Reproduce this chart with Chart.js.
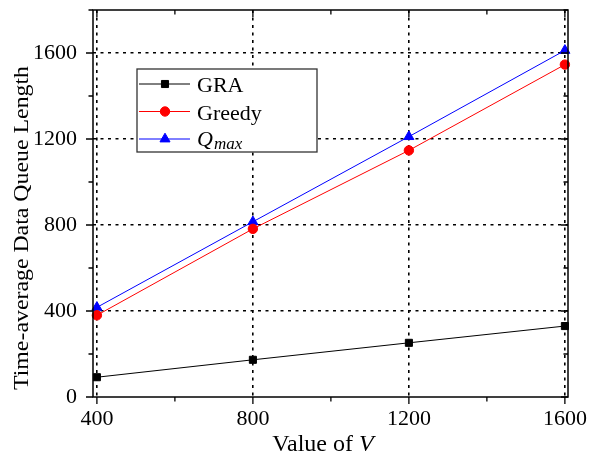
<!DOCTYPE html>
<html><head><meta charset="utf-8">
<script src="https://cdn.jsdelivr.net/npm/chart.js@4.4.0/dist/chart.umd.min.js"></script>
<style>html,body{margin:0;padding:0;background:#fff;}#wrap{width:592px;height:455px;}</style>
</head><body><div id="wrap"><canvas id="c" width="592" height="455"></canvas></div>
<script>
// ---- data ----
const vValues = [400, 800, 1200, 1600];
const graValues = [92, 173, 252, 330];
const greedyValues = [380, 782, 1147, 1546];
const qmaxValues = [417, 815, 1211, 1612];
const xTickValues = [400, 600, 800, 1000, 1200, 1400, 1600];
const xMajorTicks = [400, 800, 1200, 1600];
const yTickValues = [0, 200, 400, 600, 800, 1000, 1200, 1400, 1600, 1800];
const yMajorTicks = [0, 400, 800, 1200, 1600];
const seriesNames = ['GRA', 'Greedy', 'Qmax'];
const xTitle = 'Value of ';
const xTitleVar = 'V';
const yTitle = 'Time-average Data Queue Length';

const FONT = "'Liberation Serif', 'Times New Roman', serif";
const toPts = (ys) => vValues.map((x, i) => ({x: x, y: ys[i]}));

const styles = [
  {color: '#000000', pointStyle: 'rect', radius: 5},
  {color: '#ff0000', pointStyle: 'circle', radius: 4.7},
  {color: '#0000ff', pointStyle: 'triangle', radius: 5.8}
];
const seriesData = [graValues, greedyValues, qmaxValues];

const datasets = seriesData.map((vals, i) => ({
  label: seriesNames[i],
  data: toPts(vals),
  borderColor: styles[i].color,
  backgroundColor: styles[i].color,
  pointBackgroundColor: styles[i].color,
  pointBorderColor: styles[i].color,
  pointStyle: styles[i].pointStyle,
  pointRadius: styles[i].radius,
  pointBorderWidth: 1,
  borderWidth: 1,
  tension: 0,
  clip: false
}));

function drawMarker(ctx, style, x, y) {
  ctx.save();
  ctx.fillStyle = style.color;
  ctx.strokeStyle = style.color;
  ctx.lineWidth = 1;
  const r = style.radius;
  ctx.beginPath();
  if (style.pointStyle === 'rect') {
    const s = r * Math.SQRT1_2;
    ctx.rect(x - s, y - s, 2 * s, 2 * s);
  } else if (style.pointStyle === 'circle') {
    ctx.arc(x, y, r, 0, Math.PI * 2);
  } else {
    for (let k = 0; k < 3; k++) {
      const a = -Math.PI / 2 + k * 2 * Math.PI / 3;
      const px = x + r * Math.cos(a), py = y + r * Math.sin(a);
      if (k === 0) ctx.moveTo(px, py); else ctx.lineTo(px, py);
    }
    ctx.closePath();
  }
  ctx.fill();
  ctx.stroke();
  ctx.restore();
}

const decorPlugin = {
  id: 'decor',
  afterDraw(chart) {
    const ctx = chart.ctx;
    const a = chart.chartArea;
    const xs = chart.scales.x, ys = chart.scales.y;
    ctx.save();
    ctx.strokeStyle = '#000';
    // frame
    ctx.lineWidth = 1.5;
    ctx.strokeRect(a.left, a.top, a.right - a.left, a.bottom - a.top);
    // ticks
    ctx.lineWidth = 1.3;
    ctx.beginPath();
    xTickValues.forEach(v => {
      const px = xs.getPixelForValue(v);
      const len = xMajorTicks.includes(v) ? 7 : 4.5;
      ctx.moveTo(px, a.bottom); ctx.lineTo(px, a.bottom + len);
      ctx.moveTo(px, a.top); ctx.lineTo(px, a.top + len);
    });
    yTickValues.forEach(v => {
      const py = ys.getPixelForValue(v);
      const len = yMajorTicks.includes(v) ? 7 : 4.5;
      ctx.moveTo(a.left, py); ctx.lineTo(a.left - len, py);
      ctx.moveTo(a.right, py); ctx.lineTo(a.right - len, py);
    });
    ctx.stroke();

    // y title
    ctx.fillStyle = '#000';
    ctx.font = '22px ' + FONT;
    ctx.textBaseline = 'alphabetic';
    ctx.textAlign = 'left';
    const w = ctx.measureText(yTitle).width;
    ctx.save();
    ctx.translate(28, 390);
    ctx.rotate(-Math.PI / 2);
    ctx.scale(324 / w, 1);
    ctx.fillText(yTitle, 0, 0);
    ctx.restore();

    // x title
    ctx.font = '24px ' + FONT;
    const w1 = ctx.measureText(xTitle).width;
    ctx.font = 'italic 24px ' + FONT;
    const w2 = ctx.measureText(xTitleVar).width;
    const x0 = 323 - (w1 + w2) / 2;
    ctx.font = '24px ' + FONT;
    ctx.fillText(xTitle, x0, 451);
    ctx.font = 'italic 24px ' + FONT;
    ctx.fillText(xTitleVar, x0 + w1, 451);

    // legend
    const bx = 137, by = 69, bw = 180, bh = 83;
    ctx.fillStyle = '#fff';
    ctx.fillRect(bx, by, bw, bh);
    ctx.strokeStyle = '#333';
    ctx.lineWidth = 1.3;
    ctx.strokeRect(bx, by, bw, bh);
    const rows = [84, 111.5, 139];
    rows.forEach((ry, i) => {
      const st = styles[i];
      ctx.strokeStyle = st.color;
      ctx.lineWidth = 1;
      ctx.beginPath();
      ctx.moveTo(139, ry); ctx.lineTo(190, ry);
      ctx.stroke();
      drawMarker(ctx, st, 165, ry);
      ctx.fillStyle = '#000';
      ctx.textBaseline = 'alphabetic';
      if (i < 2) {
        ctx.font = '22px ' + FONT;
        ctx.fillText(seriesNames[i], 197, ry + 8);
      } else {
        ctx.font = 'italic 22px ' + FONT;
        ctx.fillText('Q', 197, ry + 7);
        const qw = ctx.measureText('Q').width;
        ctx.font = 'italic 17px ' + FONT;
        ctx.fillText('max', 197 + qw + 1, ry + 10);
      }
    });
    ctx.restore();
  }
};

new Chart(document.getElementById('c'), {
  type: 'line',
  data: {datasets: datasets},
  options: {
    responsive: false,
    animation: false,
    devicePixelRatio: 1,
    layout: {padding: {left: 0, right: 24, top: 10, bottom: 0}},
    plugins: {legend: {display: false}, tooltip: {enabled: false}},
    scales: {
      x: {
        type: 'linear',
        min: 390, max: 1608,
        afterBuildTicks: (s) => { s.ticks = xTickValues.map(v => ({value: v})); },
        afterFit: (s) => { s.height = 58; s.paddingLeft = 0; s.paddingRight = 0; },
        ticks: {
          autoSkip: false, maxRotation: 0, color: '#000', padding: 9,
          font: {family: FONT, size: 22},
          callback: (v) => xMajorTicks.includes(v) ? String(v) : ''
        },
        grid: {
          drawTicks: false,
          lineWidth: 1.6,
          color: (c) => (c.tick && xMajorTicks.includes(c.tick.value)) ? '#000' : 'rgba(0,0,0,0)'
        },
        border: {display: false, dash: [3, 4.5]}
      },
      y: {
        type: 'linear',
        min: 0, max: 1800,
        afterBuildTicks: (s) => { s.ticks = yTickValues.map(v => ({value: v})); },
        afterFit: (s) => { s.width = 93; s.paddingTop = 0; s.paddingBottom = 0; },
        ticks: {
          autoSkip: false, color: '#000', padding: 16,
          font: {family: FONT, size: 22},
          callback: (v) => yMajorTicks.includes(v) ? String(v) : ''
        },
        grid: {
          drawTicks: false,
          lineWidth: 1.6,
          color: (c) => (c.tick && yMajorTicks.includes(c.tick.value) && c.tick.value !== 0) ? '#000' : 'rgba(0,0,0,0)'
        },
        border: {display: false, dash: [3, 4.5]}
      }
    }
  },
  plugins: [decorPlugin]
});
</script>
</body></html>
